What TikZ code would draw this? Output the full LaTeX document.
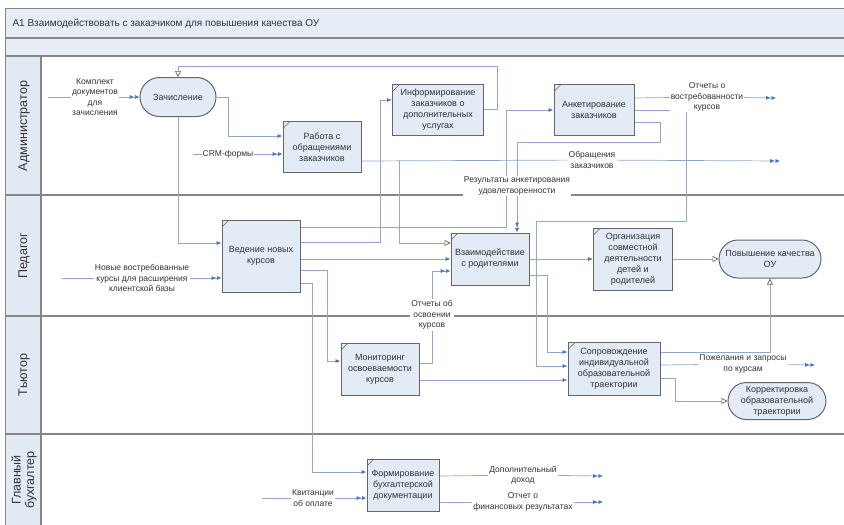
\documentclass[tikz,border=0pt]{standalone}
\usepackage{fontspec}
\setmainfont{Liberation Sans}
\usetikzlibrary{positioning,arrows.meta,shapes.misc}
\pgfdeclarelayer{bg}
\pgfdeclarelayer{ln}
\pgfsetlayers{bg,ln,main}

\definecolor{bandfill}{HTML}{E6EDF7}
\definecolor{lanefill}{HTML}{E1EAF5}
\definecolor{boxfill}{HTML}{E2EBF6}
\definecolor{boxline}{HTML}{666666}
\definecolor{framecol}{HTML}{8A8580}
\definecolor{flowcol}{HTML}{8FA8D2}
\definecolor{tipcol}{HTML}{4472C4}
\definecolor{txt}{HTML}{333333}

\newcommand{\boxfont}{\fontsize{9}{11}\selectfont}
\newcommand{\lblfont}{\fontsize{8.5}{10.5}\selectfont}

\begin{document}
\begin{tikzpicture}[x=1pt,y=-1pt,
act/.style={draw=boxline,fill=boxfill,line width=1pt,align=center,inner sep=2pt,font=\boxfont,text=txt,
  path picture={\draw[boxline,line width=0.5pt] ([yshift=-7pt]path picture bounding box.north west) -- ([xshift=7pt]path picture bounding box.north west);}},
ev/.style={rounded rectangle,draw=boxline,fill=boxfill,line width=1pt,align=center,inner sep=2pt,font=\boxfont,text=txt},
lbl/.style={fill=white,inner sep=1pt,align=center,font=\lblfont,text=txt},
lanelbl/.style={rotate=90,align=center,font=\fontsize{12.5}{13.5}\selectfont,text=txt},
flow/.style={draw=flowcol,line width=0.7pt},
arr/.style={-{Latex[length=5pt,width=4pt,color=tipcol]}},
dbl/.style={-{Latex[length=4.5pt,width=4pt,color=tipcol,sep=0.8pt]Latex[length=4.5pt,width=4pt,color=tipcol]}},
opn/.style={-{Triangle[open,fill=white,length=6pt,width=6pt,color=boxline]}}]
\useasboundingbox (0,0) rectangle (844,525);

% frame and lanes
\begin{pgfonlayer}{bg}
\fill[bandfill] (5,8) rectangle (844,56);
\fill[lanefill] (5,56) rectangle (41,525);
\draw[framecol,line width=1pt] (5,525) -- (5,8) -- (844,8);
\draw[framecol,line width=1.5pt] (5,38) -- (844,38);
\foreach \y in {56,195,316,434}
  \draw[framecol,line width=1.5pt] (5,\y) -- (844,\y);
\draw[framecol,line width=1.5pt] (41,56) -- (41,525);
\end{pgfonlayer}

\node[anchor=west,font=\fontsize{10}{12}\selectfont,text=txt] (title) at (9,24) {A1 Взаимодействовать с заказчиком для повышения качества ОУ};

\node[lanelbl] (laneAdm) at (24,126) {Администратор};
\node[lanelbl] (lanePed) at (24,256) {Педагог};
\node[lanelbl] (laneTut) at (24,375) {Тьютор};
\node[lanelbl] (laneBuh) at (24,480) {Главный\\бухгалтер};

% activities
\node[ev,minimum width=80,minimum height=39] (Zach) at (178,97) {Зачисление};
\node[act,minimum width=78,minimum height=51] (Rab) at (322,147) {Работа с\\обращениями\\заказчиков};
\node[act,minimum width=91,minimum height=51] (Inf) at (438,110) {Информирование\\заказчиков о\\дополнительных\\услугах};
\node[act,minimum width=80,minimum height=51] (Ank) at (594,110) {Анкетирование\\заказчиков};
\node[act,minimum width=78,minimum height=72] (Ved) at (261,256) {Ведение новых\\курсов};
\node[act,minimum width=78,minimum height=52] (Vz) at (490,259) {Взаимодействие\\с родителями};
\node[act,minimum width=79,minimum height=62] (Org) at (633,259) {Организация\\совместной\\деятельности\\детей и\\родителей};
\node[ev,minimum width=106,minimum height=38] (Pov) at (770,259) {Повышение качества\\ОУ};
\node[act,minimum width=78,minimum height=52] (Mon) at (380,369) {Мониторинг\\освоеваемости\\курсов};
\node[act,minimum width=92,minimum height=53] (Sop) at (614,369) {Сопровождение\\индивидуальной\\образовательной\\траектории};
\node[ev,minimum width=102,minimum height=37] (Kor) at (777,401) {Корректировка\\образовательной\\траектории};
\node[act,minimum width=72,minimum height=52] (Form) at (403,485) {Формирование\\бухгалтерской\\документации};

% labels on flows
\node[lbl] (lDoc) at (95,97) {Комплект\\документов\\для\\зачисления};
\node[lbl] (lCrm) at (228,154) {CRM-формы};
\node[lbl] (lObr) at (592,160) {Обращения\\заказчиков};
\node[lbl] (lOtv) at (707,97) {Отчеты о\\востребованности\\курсов};
\node[lbl] (lRez) at (517,186) {Результаты анкетирования\\удовлетворенности};
\node[lbl] (lNov) at (142,278) {Новые востребованные\\курсы для расширения\\клиентской базы};
\node[lbl] (lOtch) at (432,315) {Отчеты об\\освоении\\курсов};
\node[lbl] (lPoz) at (743,364) {Пожелания и запросы\\по курсам};
\node[lbl] (lKv) at (313,498) {Квитанции\\об оплате};
\node[lbl] (lDoh) at (523,475) {Дополнительный\\доход};
\node[lbl] (lFin) at (523,502) {Отчет о\\финансовых результатах};

\coordinate (inDoc) at (48,97);
\coordinate (inCrm) at (193,154);
\coordinate (inNov) at (62,278);
\coordinate (inKv) at (262,498);
\coordinate (outObr) at (780,161);
\coordinate (outOtv) at (776,98);
\coordinate (outPoz) at (815,365);
\coordinate (outDoh) at (603,476);
\coordinate (outFin) at (603,502);
\coordinate (bInf) at (497,66);
\coordinate (brRab) at (399,161);

% flows
\begin{pgfonlayer}{ln}
\draw[flow] (inDoc) -- (lDoc);
\draw[flow,dbl] (lDoc) -- (Zach);
\draw[flow,arr] (Zach.east) -- ++(12,0) |- (Rab.west |- 0,136);
\draw[flow] (inCrm) -- (lCrm);
\draw[flow,dbl] (lCrm) -- (Rab.west |- lCrm);
\draw[flow,arr] (Zach.south) |- (Ved.west |- 0,243);
\draw[flow,opn] (Inf.east |- 0,109) -| (bInf) -| (Zach.north);
\draw[flow,arr] (Ved.east |- 0,242) -| (380,100) -- (Inf.west |- 0,100);
\draw[flow] (Rab.east |- 0,161) -- (lObr);
\draw[flow,dbl] (lObr) -- (outObr);
\draw[flow,opn] (brRab) |- (Vz.west |- 0,243);
\draw[flow,arr] (Ved.east |- 0,227) -| (506,110) -- (Ank.west);
\draw[flow] (Ank.east |- 0,122) -| (660,142) -| (lRez);
\draw[flow,dbl] (lRez) -- (Vz.north -| lRez);
\draw[flow] (Ank.east |- 0,98) -- (lOtv);
\draw[flow,dbl] (lOtv) -- (outOtv);
\draw[flow,arr] (Ank.east) -| (686,221) -- (536,221) |- (Sop.west |- 0,366);
\draw[flow] (inNov) -- (lNov);
\draw[flow,dbl] (lNov) -- (Ved.west |- lNov);
\draw[flow,arr] (Ved.east |- 0,259) -- (Vz.west |- 0,259);
\draw[flow,arr] (Ved.east |- 0,270) -| (327,361) -- (Mon.west |- 0,361);
\draw[flow,arr] (Ved.east |- 0,283) -| (312,472) -- (Form.west |- 0,472);
\draw[flow] (Mon.east |- 0,363) -| (lOtch);
\draw[flow,dbl] (lOtch) |- (Vz.west |- 0,271);
\draw[flow,arr] (Vz.east) -- (Org.west);
\draw[flow,arr] (Vz.east |- 0,275) -| (547,352) -- (Sop.west |- 0,352);
\draw[flow,arr] (Mon.east |- 0,380) -- (Sop.west |- 0,380);
\draw[flow,opn] (Org.east) -- (Pov.west);
\draw[flow,opn] (Sop.east |- 0,352) -| (Pov.south);
\draw[flow] (Sop.east |- 0,365) -- (lPoz);
\draw[flow,dbl] (lPoz) -- (outPoz);
\draw[flow,opn] (Sop.east |- 0,378) -| (675,401) -- (Kor.west);
\draw[flow] (inKv) -- (lKv);
\draw[flow,dbl] (lKv) -- (Form.west |- lKv);
\draw[flow] (Form.east |- 0,476) -- (lDoh);
\draw[flow,dbl] (lDoh) -- (outDoh);
\draw[flow] (Form.east |- 0,502) -- (lFin);
\draw[flow,dbl] (lFin) -- (outFin);
\end{pgfonlayer}
\end{tikzpicture}
\end{document}
